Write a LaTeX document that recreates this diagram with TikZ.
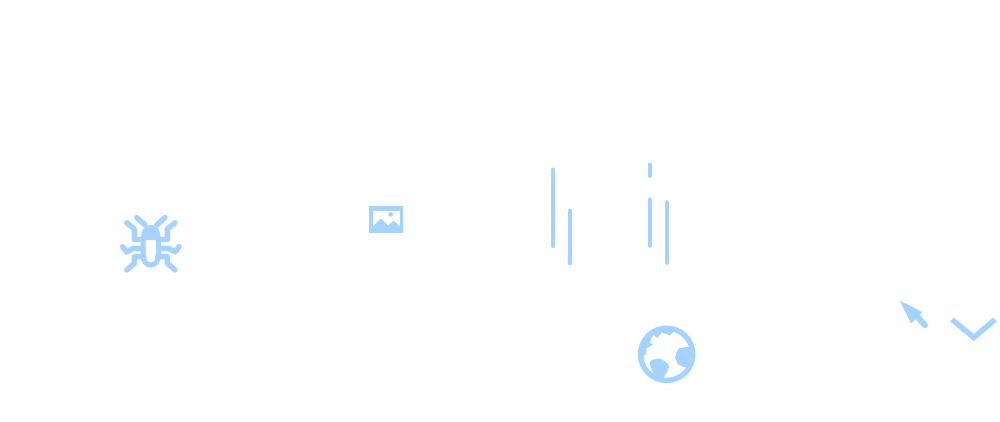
\documentclass[tikz,border=0pt]{standalone}
\definecolor{iconblue}{HTML}{A6D2FF}
\tikzset{
  iconline/.style={draw=iconblue,line width=5.4pt,line cap=round,line join=round},
  barline/.style={draw=iconblue,line width=3.8pt,line cap=round},
  iconfill/.style={fill=iconblue,draw=none},
  globeland/.style={fill=white,draw=none}
}
\begin{document}
\begin{tikzpicture}[x=1pt,y=-1pt]
\useasboundingbox (0,0) rectangle (1000,421);
\fill[white] (0,0) rectangle (1000,421);
% bug
\fill[iconblue] (141,240) .. controls (141,229) and (145,225) .. (150.8,225)
  .. controls (156.6,225) and (160.6,229) .. (160.6,240) -- cycle;
\draw[draw=iconblue,line width=5pt,line cap=round] (143.2,238) -- (143.2,254) .. controls (143.2,261.5) and (146,265) .. (150.8,265)
  .. controls (155.6,265) and (158.4,261.5) .. (158.4,254) -- (158.4,238);
\draw[iconline] (136.7,217.5) -- (145,225);
\draw[iconline] (165,217.5) -- (156.7,225);
\draw[iconline] (126.7,222.7) -- (134.3,229) -- (134.3,239.5) -- (143,239.5);
\draw[iconline] (175,222.7) -- (167.4,229) -- (167.4,239.5) -- (158.7,239.5);
\draw[iconline] (122.5,246.7) -- (126.7,252) -- (133.3,248.3) -- (143,248.3);
\draw[iconline] (179.2,246.7) -- (175,252) -- (168.4,248.3) -- (158.7,248.3);
\draw[iconline] (126.7,270) -- (134.3,263.5) -- (134.3,256.7) -- (144,256.7);
\draw[iconline] (175,270) -- (167.4,263.5) -- (167.4,256.7) -- (157.7,256.7);
% picture icon
\fill[iconblue] (368.7,206.3) rectangle (403.3,233.2);
\fill[white] (373,210.8) -- (399.8,210.8) -- (399.8,226.3) -- (393.5,220.5) -- (388.3,225.3) -- (380.7,218.3) -- (373,226.3) -- cycle;
\fill[iconblue] (390.7,214.4) circle (2.3);
% bars
\draw[barline] (553.3,169.5) -- (553.3,246.2);
\draw[barline] (570,210.5) -- (570,263.5);
\draw[barline] (650,164.5) -- (650,176);
\draw[barline] (650,199.5) -- (650,245.7);
\draw[barline] (666.7,202.2) -- (666.7,263);
% globe
\begin{scope}[shift={(620,310)},x=0.3333pt,y=-0.3333pt]
  \fill[iconblue] (140,133) circle (86.5);
  \begin{scope}
    \clip (140,133) circle (70);
    \fill[globeland] (90,98) -- (99,74) -- (112,85) -- (125,68) -- (150,76) -- (165,62) -- (190,80) -- (215,109)
      -- (178,114) -- (170,125) -- (165,145) -- (175,165) -- (195,172) -- (215,168) -- (192,210) -- (150,215)
      -- (115,210) -- (85,190) -- (65,165) -- (62,148) -- (78,132) -- (80,115) -- (100,105) -- cycle;
  \end{scope}
  \fill[iconblue,rounded corners=3pt] (88,152) -- (120,144) -- (150,165) -- (140,188) -- (126,210) -- (102,195) -- (92,172) -- cycle;
  \fill[iconblue,rounded corners=3pt] (176,117) -- (214,114) -- (222,140) -- (210,174) -- (185,170) -- (168,145) -- cycle;
\end{scope}
% cursor
\draw[draw=iconblue,line width=6pt,line cap=round] (917,316.5) -- (925,325.2);
\fill[iconblue,rounded corners=0.5pt] (899.5,300.5) -- (922.5,312.2) -- (911,323.5) -- cycle;
% chevron
\draw[draw=iconblue,line width=5.4pt,line join=miter] (952,319.5) -- (973.7,337.5) -- (995,319.5);
\end{tikzpicture}
\end{document}
